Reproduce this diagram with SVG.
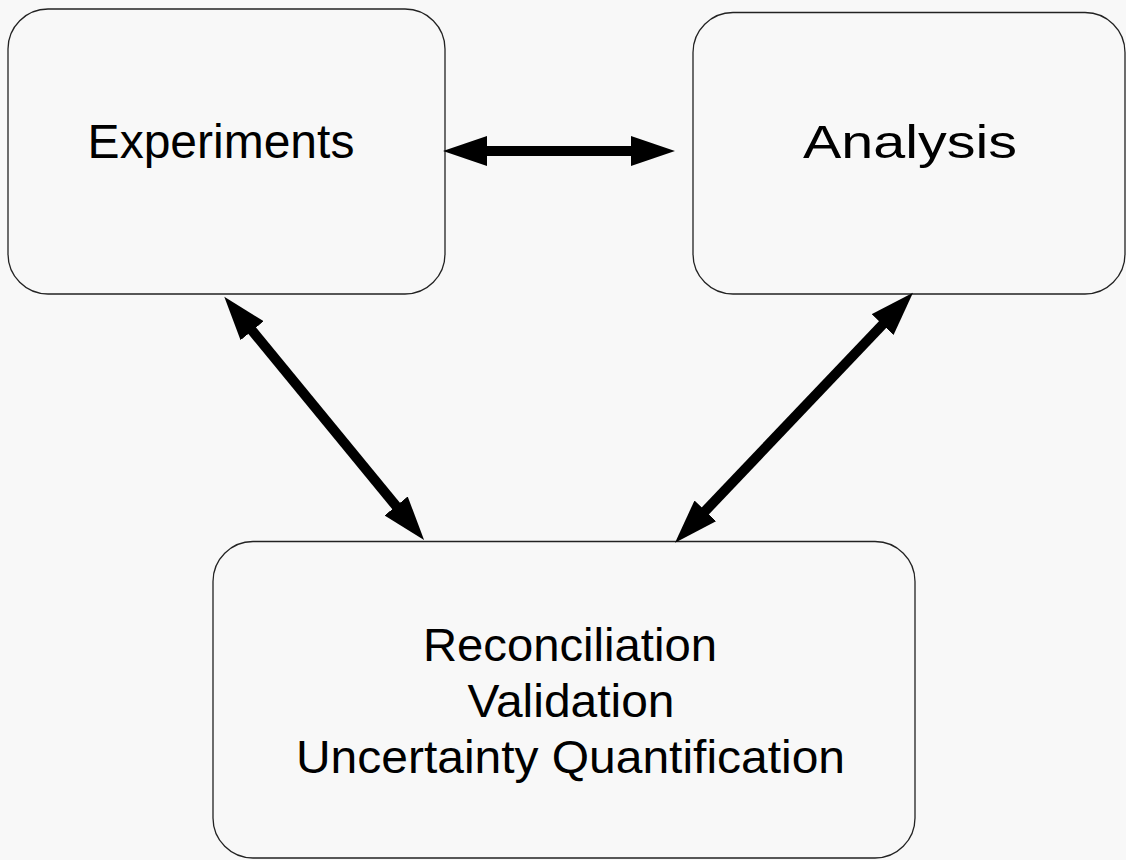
<svg xmlns="http://www.w3.org/2000/svg" width="1126" height="860" viewBox="0 0 1126 860">
  <style>
    .box { fill: #f8f8f8; stroke: #222; stroke-width: 1.3; }
    .lbl { font-family: "Liberation Sans", Arial, sans-serif; fill: #000; text-anchor: middle; }
    .conn { stroke: #000; stroke-width: 10; fill: none; marker-start: url(#head); marker-end: url(#head); }
  </style>
  <defs>
    <marker id="head" viewBox="0 0 4.4 3" markerUnits="strokeWidth" markerWidth="4.4" markerHeight="3" refX="1.4" refY="1.5" orient="auto-start-reverse">
      <path d="M0,0 L4.4,1.5 L0,3 Z" fill="#000"/>
    </marker>
  </defs>
  <rect x="0" y="0" width="1126" height="860" fill="#f8f8f8"/>
  <g id="experiments">
    <rect class="box" x="8" y="9" width="437" height="285" rx="40" ry="40"/>
    <text class="lbl" x="221" y="158" font-size="48">Experiments</text>
  </g>
  <g id="analysis">
    <rect class="box" x="693" y="12.5" width="432" height="281.5" rx="40" ry="40"/>
    <text class="lbl" x="910" y="158" font-size="46" textLength="214" lengthAdjust="spacingAndGlyphs">Analysis</text>
  </g>
  <g id="reconciliation">
    <rect class="box" x="213" y="541.5" width="702" height="316.5" rx="40" ry="40"/>
    <text class="lbl" x="570" y="661" font-size="47" textLength="294" lengthAdjust="spacingAndGlyphs">Reconciliation</text>
    <text class="lbl" x="571" y="717" font-size="47" textLength="207" lengthAdjust="spacingAndGlyphs">Validation</text>
    <text class="lbl" x="570.5" y="773" font-size="47" textLength="549" lengthAdjust="spacingAndGlyphs">Uncertainty Quantification</text>
  </g>
  <g id="connectors">
    <line class="conn" x1="473" y1="151" x2="645" y2="151"/>
    <line class="conn" x1="243.3" y1="319.9" x2="405" y2="516.8"/>
    <line class="conn" x1="892.3" y1="314.4" x2="695.7" y2="521"/>
  </g>
</svg>
